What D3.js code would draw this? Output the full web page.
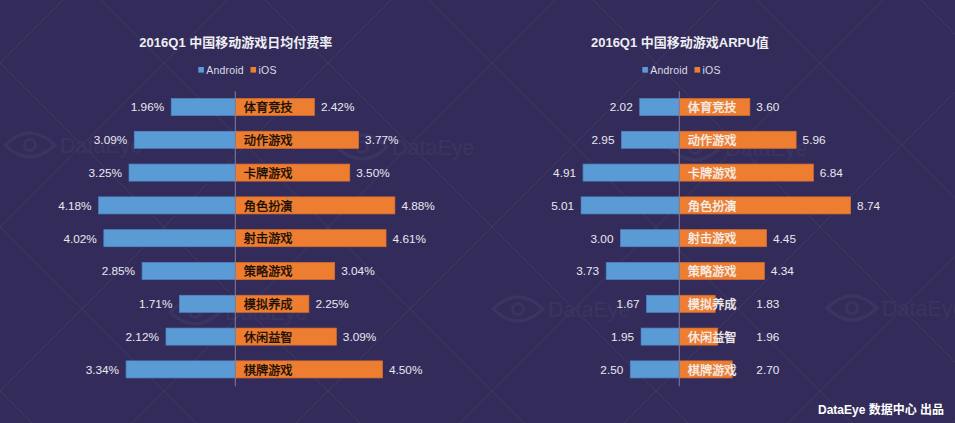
<!DOCTYPE html>
<html>
<head>
<meta charset="utf-8">
<script src="https://cdn.jsdelivr.net/npm/d3@7"></script>
<style>
  html, body { margin: 0; padding: 0; background: #332c5a; }
  svg { display: block; }
  text { font-family: "Liberation Sans", "Noto Sans CJK SC", sans-serif; }
</style>
</head>
<body>
<svg id="chart" width="955" height="423"></svg>
<script>
// Data
let categories = ["体育竞技", "动作游戏", "卡牌游戏", "角色扮演", "射击游戏", "策略游戏", "模拟养成", "休闲益智", "棋牌游戏"];
let payRateAndroid = [1.96, 3.09, 3.25, 4.18, 4.02, 2.85, 1.71, 2.12, 3.34];
let payRateIos = [2.42, 3.77, 3.50, 4.88, 4.61, 3.04, 2.25, 3.09, 4.50];
let arpuAndroid = [2.02, 2.95, 4.91, 5.01, 3.00, 3.73, 1.67, 1.95, 2.50];
let arpuIos = [3.60, 5.96, 6.84, 8.74, 4.45, 4.34, 1.83, 1.96, 2.70];
let seriesNames = ["Android", "iOS"];
let titleLeft = "2016Q1 中国移动游戏日均付费率";
let titleRight = "2016Q1 中国移动游戏ARPU值";
let footerText = "DataEye 数据中心 出品";
let watermarkText = "DataEye";

let blue = "#5b9bd5", orange = "#ed7d31";
let svg = d3.select("#chart");

// ------------------------- BACKGROUND LATTICE + WATERMARKS -----------------------------------------
let bg = svg.append("g");
bg.append("rect").attr("width", 955).attr("height", 423).attr("fill", "#332c5a");

// diagonal lines, crossing every 164px
d3.range(-6, 12).forEach(function(k) {
  let c = k * 164 - 63;
  bg.append("line").attr("x1", c).attr("y1", 0).attr("x2", c + 423).attr("y2", 423)
    .attr("stroke", "#443f64").attr("stroke-width", 0.7);
  let c2 = k * 164 + 63;
  bg.append("line").attr("x1", c2).attr("y1", 0).attr("x2", c2 - 423).attr("y2", 423)
    .attr("stroke", "#443f64").attr("stroke-width", 0.7);
});

function watermark(x, y) {
  let g = bg.append("g").attr("transform", "translate(" + x + "," + y + ")");
  g.append("path").attr("d", "M0,0 Q25,-24 50,0 Q25,24 0,0 Z")
    .attr("fill", "none").attr("stroke", "#3a3461").attr("stroke-width", 3.5);
  g.append("circle").attr("cx", 25).attr("cy", 0).attr("r", 5.5)
    .attr("fill", "none").attr("stroke", "#3a3461").attr("stroke-width", 3);
  g.append("text").attr("x", 55).attr("y", 8).attr("font-size", 21.5)
    .attr("fill", "#3a3461").text(watermarkText);
}
watermark(5, 145);
watermark(337, 147);
watermark(670, 148);
watermark(170, 312);
watermark(493, 309);
watermark(827, 308);

// ------------------------- ONE BUTTERFLY PANEL -----------------------------------------
function panel(opts) {
  let g = svg.append("g");

  let y = d3.scaleBand().domain(categories).range([90.6, 385.8])
    .paddingInner(0.48).paddingOuter(0.24);
  let xLeft = d3.scaleLinear().domain([0, opts.max]).range([opts.center, opts.center - opts.width]);
  let xRight = d3.scaleLinear().domain([0, opts.max]).range([opts.center, opts.center + opts.width]);

  // title
  g.append("text").attr("x", opts.center + 0.5).attr("y", 47).attr("text-anchor", "middle")
    .attr("font-size", 13).attr("font-weight", "bold").attr("fill", "#eeeef2").text(opts.title);

  // legend
  let legendX = [opts.center - 37, opts.center + 15.2];
  seriesNames.forEach(function(name, i) {
    g.append("rect").attr("x", legendX[i]).attr("y", 67).attr("width", 5.6).attr("height", 5.6)
      .attr("fill", i == 0 ? blue : orange);
    g.append("text").attr("x", legendX[i] + 8).attr("y", 73.8).attr("font-size", 10.5)
      .attr("letter-spacing", 0.2).attr("fill", "#dcdce6").text(name);
  });

  // bars
  g.selectAll(".android").data(opts.android).join("rect")
    .attr("x", d => xLeft(d))
    .attr("y", (d, i) => y(categories[i]))
    .attr("width", d => opts.center - xLeft(d))
    .attr("height", y.bandwidth())
    .attr("fill", blue).attr("stroke", "#4f86c6").attr("stroke-width", 0.7);
  g.selectAll(".ios").data(opts.ios).join("rect")
    .attr("x", opts.center)
    .attr("y", (d, i) => y(categories[i]))
    .attr("width", d => xRight(d) - opts.center)
    .attr("height", y.bandwidth())
    .attr("fill", orange).attr("stroke", "#d96f2b").attr("stroke-width", 0.7);

  // value labels
  g.selectAll(".labelA").data(opts.android).join("text")
    .attr("x", d => xLeft(d) - 7)
    .attr("y", (d, i) => y(categories[i]) + y.bandwidth() / 2 + 4.3)
    .attr("text-anchor", "end").attr("font-size", 11.8).attr("fill", "#e8e8f0")
    .text(d => d.toFixed(2) + opts.suffix);
  g.selectAll(".labelI").data(opts.ios).join("text")
    // short bars on the ARPU side keep their label out past the category name
    .attr("x", d => xRight(Math.max(d, opts.minLabel)) + 6.5)
    .attr("y", (d, i) => y(categories[i]) + y.bandwidth() / 2 + 4.3)
    .attr("font-size", 11.8).attr("fill", "#e8e8f0")
    .text(d => d.toFixed(2) + opts.suffix);

  // centre axis, the category names are its tick labels
  let axis = g.append("g").attr("transform", "translate(" + (opts.center - 0.5) + ",0)")
    .call(d3.axisRight(y).tickSize(0).tickPadding(9));
  axis.select(".domain").attr("stroke", "#807d98").attr("stroke-width", 1);
  axis.selectAll("text")
    .attr("font-family", "'Noto Sans CJK SC', sans-serif")
    .attr("font-size", 12.2).attr("font-weight", "normal")
    .attr("dy", "0.42em")
    .attr("fill", opts.catColor).attr("stroke", opts.catColor).attr("stroke-width", 0.35);
}

panel({ center: 235.3, max: 5, width: 163.5, title: titleLeft, android: payRateAndroid, ios: payRateIos,
  suffix: "%", minLabel: 0, catColor: "#120c05" });
panel({ center: 679.3, max: 10, width: 196, title: titleRight, android: arpuAndroid, ios: arpuIos,
  suffix: "", minLabel: 3.6, catColor: "#f4f0ec" });

// footer
svg.append("text").attr("x", 944).attr("y", 413.5).attr("text-anchor", "end")
  .attr("font-size", 12).attr("font-weight", "bold").attr("fill", "#ffffff").text(footerText);
</script>
</body>
</html>
